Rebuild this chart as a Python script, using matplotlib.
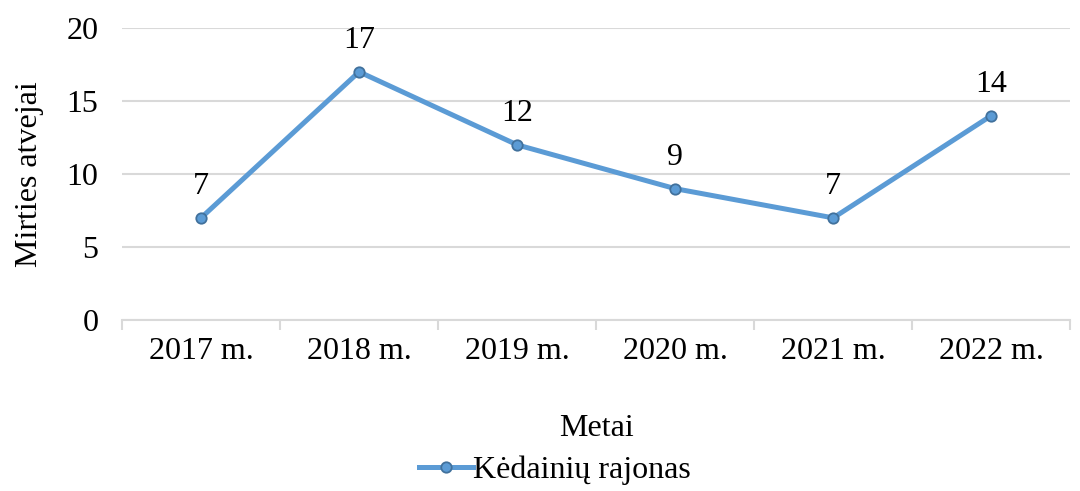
import matplotlib.pyplot as plt
from matplotlib.lines import Line2D

years = ['2017 m.', '2018 m.', '2019 m.', '2020 m.', '2021 m.', '2022 m.']
cases = [7, 17, 12, 9, 7, 14]
series_name = 'Kėdainių rajonas'

plt.rcParams['font.family'] = ['Liberation Serif', 'DejaVu Serif']

line_col = '#5b9bd5'
edge_col = '#41719c'
grid_col = '#d9d9d9'
fs = 23

fig = plt.figure(figsize=(10.8, 4.91), dpi=100)
ax = fig.add_axes([0.113, 0.348, 0.878, 0.595])

x = list(range(len(years)))
ax.plot(x, cases, color=line_col, lw=3.6, marker='o', ms=7.5,
        mfc=line_col, mec=edge_col, mew=1.3, solid_capstyle='round', zorder=3)

# data labels above points
for xi, v in zip(x, cases):
    ax.annotate(str(v), (xi, v), xytext=(0, 12), textcoords='offset points',
                ha='center', va='bottom', fontsize=fs)

ax.set_ylim(0, 20)
ax.set_xlim(-0.5, len(years) - 0.5)
ax.set_yticks([0, 5, 10, 15, 20])
ax.set_xticks(x)
ax.set_xticklabels(years)
ax.set_xticks([i - 0.5 for i in range(len(years) + 1)], minor=True)

ax.yaxis.grid(True, color=grid_col, lw=1.5)
ax.set_axisbelow(True)
for s in ['top', 'right', 'left']:
    ax.spines[s].set_visible(False)
ax.spines['bottom'].set_color(grid_col)
ax.spines['bottom'].set_linewidth(1.5)

ax.tick_params(axis='y', length=0, pad=17, labelsize=fs)
ax.tick_params(axis='x', which='major', length=0, pad=12, labelsize=fs)
ax.tick_params(axis='x', which='minor', length=7, width=1.5, color=grid_col)

ax.set_ylabel('Mirties atvejai', fontsize=fs, labelpad=16)
ax.set_xlabel('Metai', fontsize=fs, labelpad=35)

handle = Line2D([], [], color=line_col, lw=3.6, marker='o', ms=7.5,
                mfc=line_col, mec=edge_col, mew=1.3)
fig.legend([handle], [series_name], loc='center', bbox_to_anchor=(0.514, 0.042),
           frameon=False, fontsize=fs, handlelength=1.7, handletextpad=0.0)

fig.savefig('out.png', dpi=100)
